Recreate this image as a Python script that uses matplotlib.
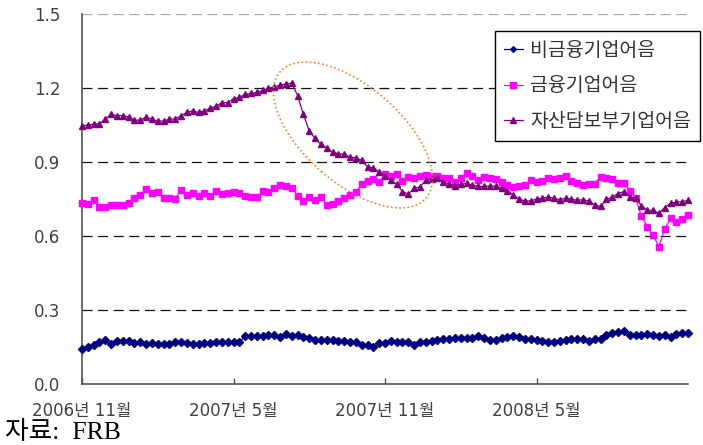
import numpy as np
import matplotlib
matplotlib.use("Agg")
import matplotlib.pyplot as plt
from matplotlib.patches import Ellipse

# Weekly commercial paper outstanding (trillion USD), Nov 2006 - Oct 2008
tick_labels = ["2006년 11월", "2007년 5월", "2007년 11월", "2008년 5월"]
tick_weeks = [0, 26, 52, 78]
series_names = ["비금융기업어음", "금융기업어음", "자산담보부기업어음"]

nonfinancial = [
    0.143, 0.151, 0.157, 0.170, 0.177, 0.162, 0.173, 0.174, 0.173, 0.166,
    0.169, 0.162, 0.166, 0.164, 0.162, 0.164, 0.170, 0.169, 0.167, 0.164,
    0.162, 0.165, 0.167, 0.170, 0.170, 0.169, 0.169, 0.170, 0.193, 0.194,
    0.194, 0.194, 0.197, 0.200, 0.189, 0.201, 0.196, 0.199, 0.192, 0.186,
    0.177, 0.178, 0.178, 0.177, 0.175, 0.173, 0.170, 0.170, 0.159, 0.157,
    0.151, 0.165, 0.166, 0.176, 0.170, 0.170, 0.170, 0.159, 0.169, 0.172,
    0.173, 0.178, 0.181, 0.182, 0.185, 0.188, 0.186, 0.186, 0.193, 0.186,
    0.178, 0.180, 0.186, 0.190, 0.193, 0.192, 0.181, 0.181, 0.178, 0.176,
    0.172, 0.170, 0.173, 0.180, 0.181, 0.184, 0.184, 0.173, 0.181, 0.181,
    0.200, 0.205, 0.209, 0.216, 0.200, 0.200, 0.200, 0.203, 0.197, 0.193,
    0.197, 0.192, 0.203, 0.205, 0.207,
]

financial = [
    0.732, 0.728, 0.746, 0.719, 0.718, 0.727, 0.724, 0.727, 0.732, 0.753,
    0.766, 0.789, 0.773, 0.780, 0.755, 0.753, 0.750, 0.788, 0.766, 0.773,
    0.764, 0.773, 0.761, 0.781, 0.769, 0.774, 0.780, 0.773, 0.764, 0.758,
    0.758, 0.782, 0.780, 0.793, 0.805, 0.801, 0.796, 0.764, 0.743, 0.758,
    0.745, 0.757, 0.726, 0.731, 0.742, 0.753, 0.766, 0.777, 0.810, 0.823,
    0.830, 0.818, 0.850, 0.843, 0.850, 0.823, 0.839, 0.836, 0.845, 0.847,
    0.842, 0.845, 0.836, 0.834, 0.818, 0.834, 0.857, 0.845, 0.829, 0.841,
    0.834, 0.830, 0.820, 0.807, 0.799, 0.804, 0.807, 0.826, 0.818, 0.823,
    0.834, 0.831, 0.836, 0.842, 0.823, 0.814, 0.807, 0.809, 0.812, 0.841,
    0.836, 0.831, 0.814, 0.816, 0.784, 0.753, 0.682, 0.638, 0.604, 0.557,
    0.628, 0.672, 0.658, 0.669, 0.685,
]

asset_backed = [
    1.046, 1.050, 1.053, 1.055, 1.074, 1.093, 1.088, 1.088, 1.082, 1.069,
    1.070, 1.082, 1.074, 1.066, 1.066, 1.074, 1.074, 1.088, 1.101, 1.107,
    1.101, 1.107, 1.118, 1.126, 1.141, 1.141, 1.157, 1.162, 1.174, 1.178,
    1.182, 1.190, 1.199, 1.204, 1.212, 1.216, 1.220, 1.169, 1.093, 1.026,
    0.996, 0.972, 0.958, 0.939, 0.934, 0.931, 0.920, 0.917, 0.907, 0.880,
    0.877, 0.858, 0.845, 0.826, 0.810, 0.780, 0.770, 0.793, 0.799, 0.826,
    0.831, 0.834, 0.818, 0.812, 0.803, 0.810, 0.813, 0.807, 0.801, 0.801,
    0.803, 0.801, 0.796, 0.784, 0.766, 0.750, 0.742, 0.742, 0.750, 0.753,
    0.758, 0.753, 0.747, 0.753, 0.749, 0.745, 0.747, 0.742, 0.726, 0.720,
    0.749, 0.757, 0.772, 0.780, 0.759, 0.753, 0.723, 0.704, 0.704, 0.692,
    0.715, 0.733, 0.737, 0.739, 0.745,
]

y_ticks = [0.0, 0.3, 0.6, 0.9, 1.2, 1.5]

plt.rcParams["font.family"] = ["DejaVu Sans", "Noto Sans CJK KR"]
text_color = "#404040"

W, H = 703, 445
fig = plt.figure(figsize=(W / 100, H / 100), dpi=100)
ax = fig.add_axes([82 / W, 61 / H, 606 / W, 370 / H])

weeks = np.arange(len(nonfinancial))

ax.plot(weeks, nonfinancial, color="#000080", marker="D", ms=3.6, lw=0.9,
        clip_on=False, zorder=3, label=series_names[0])
ax.plot(weeks, financial, color="#FF00FF", marker="s", ms=4.6, lw=0.9,
        clip_on=False, zorder=3, label=series_names[1])
ax.plot(weeks, asset_backed, color="#800080", marker="^", ms=5.0, lw=0.9,
        clip_on=False, zorder=3, label=series_names[2])

ax.set_xlim(0, len(weeks) - 1)
ax.set_ylim(0, 1.5)

# dashed horizontal reference lines
dash = (0, (8.0, 4.5))
for v in y_ticks[1:-1]:
    ax.axhline(v, color="#111111", lw=0.9, ls=dash, zorder=1)
ax.axhline(y_ticks[-1], color="#a8a8a8", lw=0.9, ls=dash, zorder=1)

ax.set_yticks(y_ticks)
ax.set_yticklabels([f"{v:.1f}" for v in y_ticks])
ax.set_xticks(tick_weeks)
ax.set_xticklabels(tick_labels)

for s in ["top", "right"]:
    ax.spines[s].set_visible(False)
for s in ["left", "bottom"]:
    ax.spines[s].set_color("#555555")
    ax.spines[s].set_linewidth(1.2)

ax.tick_params(axis="y", length=0, pad=15.5, labelsize=12, labelcolor=text_color)
ax.tick_params(axis="x", direction="in", length=4, width=1.0, color="#555555",
               pad=13, labelsize=12, labelcolor=text_color)

leg = ax.legend(loc="upper left", bbox_to_anchor=(495 / W, (H - 31) / H),
                bbox_transform=fig.transFigure, borderaxespad=0,
                frameon=True, fancybox=False, framealpha=1,
                edgecolor="black", numpoints=1, markerscale=0.8,
                prop={"family": "Noto Sans CJK KR", "size": 14},
                labelcolor="#333333", handlelength=1.0, handletextpad=0.35,
                labelspacing=0.75, borderpad=0.45)
leg.get_frame().set_linewidth(1.0)
leg.set_zorder(5)

# highlight of the asset-backed paper collapse
fig.add_artist(Ellipse((3.53, 3.10), 1.93, 0.966, angle=-40.9,
                       transform=fig.dpi_scale_trans, fill=False,
                       edgecolor="#FF7F27", lw=1.2, ls=(0, (1, 1.5)),
                       zorder=6))

fig.text(5 / W, (H - 432) / H, "자료:  FRB", ha="left", va="center",
         fontsize=18.5, color="black",
         family=["Liberation Serif", "Noto Sans CJK KR"])

fig.savefig("out.png", dpi=100)
